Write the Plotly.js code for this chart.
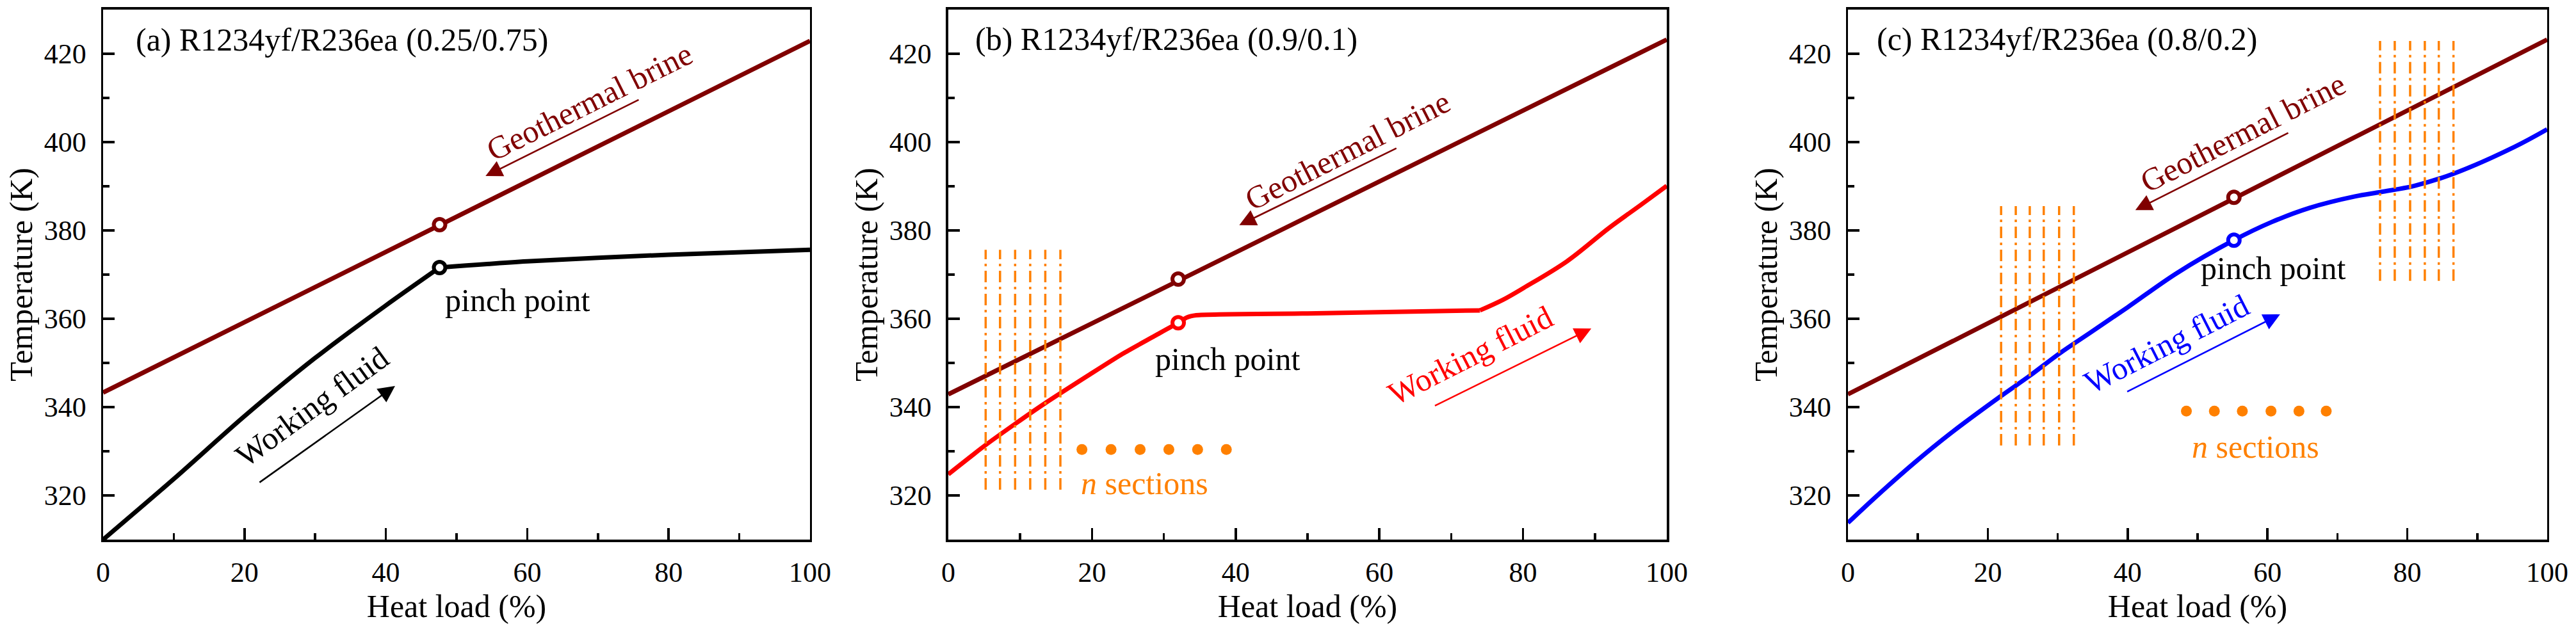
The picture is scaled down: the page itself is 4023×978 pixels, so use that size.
<!DOCTYPE html>
<html>
<head>
<meta charset="utf-8">
<script src="https://cdn.plot.ly/plotly-3.0.1.min.js"></script>
<style>
  html, body { margin: 0; padding: 0; background: #ffffff; }
  #chart { width: 4023px; height: 978px; }
</style>
</head>
<body>
<div id="chart"></div>
<script>
// heat load axis (%), temperatures (K)
const brineX = [0, 100];
const brineA = [343.3, 422.9];
const brineB = [342.9, 423.2];
const brineC = [342.9, 423.2];

// working fluid curves, each split in two pieces where the curve has a corner
const fluidAX1 = [0, 10.2, 19.9, 29.9, 39.9, 47.6];
const fluidAY1 = [310, 324.0, 337.8, 351.0, 362.9, 371.6];
const fluidAX2 = [47.6, 60, 80, 100];
const fluidAY2 = [371.6, 373.0, 374.5, 375.6];

const fluidBX1 = [0, 5.1, 9.3, 13.4, 19.8, 24.3, 28.7, 32.0, 33.2, 34.5, 50, 74.0];
const fluidBY1 = [324.8, 331.3, 336.2, 340.8, 347.5, 352.1, 356.1, 359.1, 360.3, 360.8, 361.2, 361.9];
const fluidBX2 = [74.0, 77.2, 80.1, 86.1, 92.0, 96.5, 100];
const fluidBY2 = [361.9, 364.3, 367.0, 373.0, 380.6, 385.9, 390.1];

const fluidCX = [0, 4.0, 9.5, 14.7, 21.7, 26.0, 30.3, 34.6, 40.0, 47.0, 55.2, 60.6, 66.0, 72.5, 76.2, 81.0, 86.7, 95.3, 100];
const fluidCY = [313.8, 319.7, 327.4, 334.1, 342.3, 347.1, 352.2, 356.8, 362.6, 370.3, 377.8, 381.9, 385.1, 387.7, 388.7, 390.1, 392.9, 398.9, 402.9];

// pinch points: [heat load, brine T, fluid T]
const pinchA = [47.6, 381.3, 371.6];
const pinchB = [32.0, 369.0, 359.1];
const pinchC = [55.2, 387.5, 377.8];

// section boundaries (vertical dash-dot lines) and their T extent
const sectionsB = [5.2, 7.2, 9.3, 11.4, 13.5, 15.6];
const sectionsBRange = [321.3, 375.6];
const sectionsC1 = [21.9, 24.0, 26.0, 28.0, 30.2, 32.3];
const sectionsC1Range = [331.3, 385.5];
const sectionsC2 = [76.1, 78.2, 80.4, 82.5, 84.5, 86.6];
const sectionsC2Range = [368.6, 422.9];

const dotsBX = [18.6, 22.65, 26.7, 30.7, 34.7, 38.7];
const dotsBY = 330.4;
const dotsCX = [48.4, 52.4, 56.4, 60.5, 64.5, 68.4];
const dotsCY = 339.1;

const panelTitles = [
  "(a) R1234yf/R236ea (0.25/0.75)",
  "(b) R1234yf/R236ea (0.9/0.1)",
  "(c) R1234yf/R236ea (0.8/0.2)"
];

const xTickVals = [0, 20, 40, 60, 80, 100];
const yTickVals = [320, 340, 360, 380, 400, 420];

const BRINE = "#800000";
const ORANGE = "#ff8000";
const FONT = "Liberation Serif, Times New Roman, serif";
const LW = 7;

const sectionX = (xs) => xs.flatMap((v) => [v, v, null]);
const sectionY = (xs, range) => xs.flatMap(() => [range[0], range[1], null]);

const lineTrace = (x, y, color, xa, ya, smooth = 0) => ({
  x, y, xaxis: xa, yaxis: ya, type: "scatter", mode: "lines",
  line: smooth > 0 ? { color, width: LW, shape: "spline", smoothing: smooth } : { color, width: LW },
  hoverinfo: "skip", showlegend: false
});

const pinchTrace = (p, fluidColor, xa, ya) => ({
  x: [p[0], p[0]], y: [p[1], p[2]], xaxis: xa, yaxis: ya,
  type: "scatter", mode: "markers", showlegend: false, hoverinfo: "skip",
  marker: { symbol: "circle", size: 18, color: "#ffffff", line: { color: [BRINE, fluidColor], width: 6 } }
});

const sectionTrace = (xs, range, xa, ya) => ({
  x: sectionX(xs), y: sectionY(xs, range), xaxis: xa, yaxis: ya,
  type: "scatter", mode: "lines", showlegend: false, hoverinfo: "skip",
  line: { color: ORANGE, width: 3.5, dash: "18px,7px,4px,7px" }
});

const dotTrace = (xs, yv, xa, ya) => ({
  x: xs, y: xs.map(() => yv), xaxis: xa, yaxis: ya,
  type: "scatter", mode: "markers", showlegend: false, hoverinfo: "skip",
  marker: { color: ORANGE, size: 17 }
});

const data = [
  lineTrace(brineX, brineA, BRINE, "x", "y"),
  lineTrace(fluidAX1, fluidAY1, "#000000", "x", "y", 0.8),
  lineTrace(fluidAX2, fluidAY2, "#000000", "x", "y", 0.8),
  pinchTrace(pinchA, "#000000", "x", "y"),

  lineTrace(brineX, brineB, BRINE, "x2", "y2"),
  lineTrace(fluidBX1, fluidBY1, "#ff0000", "x2", "y2", 0.6),
  lineTrace(fluidBX2, fluidBY2, "#ff0000", "x2", "y2", 1.0),
  sectionTrace(sectionsB, sectionsBRange, "x2", "y2"),
  pinchTrace(pinchB, "#ff0000", "x2", "y2"),
  dotTrace(dotsBX, dotsBY, "x2", "y2"),

  lineTrace(brineX, brineC, BRINE, "x3", "y3"),
  lineTrace(fluidCX, fluidCY, "#0000ff", "x3", "y3", 1.0),
  sectionTrace(sectionsC1, sectionsC1Range, "x3", "y3"),
  sectionTrace(sectionsC2, sectionsC2Range, "x3", "y3"),
  pinchTrace(pinchC, "#0000ff", "x3", "y3"),
  dotTrace(dotsCX, dotsCY, "x3", "y3")
];

const xAxis = (domain, anchor) => ({
  domain, anchor, range: [0, 100],
  tickvals: xTickVals, ticks: "inside", ticklen: 18, tickwidth: 3.5, tickcolor: "#000",
  minor: { ticks: "inside", ticklen: 10, tickwidth: 3.5, tickcolor: "#000", dtick: 10, tick0: 0 },
  showline: true, linewidth: 3.5, linecolor: "#000", mirror: true,
  showgrid: false, zeroline: false, ticklabelstandoff: 10,
  tickfont: { family: FONT, size: 44, color: "#000" },
  title: { text: "Heat load (%)", standoff: 6, font: { family: FONT, size: 50, color: "#000" } }
});

const yAxis = (anchor) => ({
  domain: [0.1380, 0.9847], anchor, range: [310, 430],
  tickvals: yTickVals, ticks: "inside", ticklen: 18, tickwidth: 3.5, tickcolor: "#000",
  minor: { ticks: "inside", ticklen: 10, tickwidth: 3.5, tickcolor: "#000", dtick: 10, tick0: 310 },
  showline: true, linewidth: 3.5, linecolor: "#000", mirror: true,
  showgrid: false, zeroline: false, ticklabelstandoff: 14,
  tickfont: { family: FONT, size: 44, color: "#000" },
  title: { text: "Temperature (K)", standoff: 3, font: { family: FONT, size: 50, color: "#000" } }
});

const txt = (xref, yref, x, y, text, color, opts = {}) => Object.assign({
  xref, yref, x, y, text, showarrow: false,
  font: { family: FONT, size: 50, color }, xanchor: "center", yanchor: "middle"
}, opts);

const arrow = (xref, yref, tail, head, color) => ({
  xref, yref, axref: xref, ayref: yref,
  x: head[0], y: head[1], ax: tail[0], ay: tail[1], text: "",
  showarrow: true, arrowhead: 2, arrowsize: 2, arrowwidth: 2.6, arrowcolor: color
});

const annotations = [
  // (a)
  txt("x", "y", 4.45, 423.2, panelTitles[0], "#000", { xanchor: "left" }),
  txt("x", "y", 68.8, 409.1, "Geothermal brine", BRINE, { textangle: -26.5 }),
  arrow("x", "y", [75.9, 409.7], [54.1, 392.3], BRINE),
  txt("x", "y", 29.6, 340.1, "Working fluid", "#000", { textangle: -36 }),
  arrow("x", "y", [22.0, 322.8], [41.3, 344.8], "#000"),
  txt("x", "y", 48.2, 364.2, "pinch point", "#000", { xanchor: "left" }),
  // (b)
  txt("x2", "y2", 3.6, 423.3, panelTitles[1], "#000", { xanchor: "left" }),
  txt("x2", "y2", 55.6, 398.1, "Geothermal brine", BRINE, { textangle: -27 }),
  arrow("x2", "y2", [62.5, 398.7], [40.5, 381.2], BRINE),
  txt("x2", "y2", 72.7, 351.7, "Working fluid", "#ff0000", { textangle: -27 }),
  arrow("x2", "y2", [67.6, 340.2], [89.5, 357.8], "#ff0000"),
  txt("x2", "y2", 28.6, 350.8, "pinch point", "#000", { xanchor: "left" }),
  txt("x2", "y2", 18.3, 322.8, "<i>n</i> sections", ORANGE, { xanchor: "left" }),
  // (c)
  txt("x3", "y3", 3.9, 423.3, panelTitles[2], "#000", { xanchor: "left" }),
  txt("x3", "y3", 56.5, 402.2, "Geothermal brine", BRINE, { textangle: -27 }),
  arrow("x3", "y3", [63.1, 402.2], [41.1, 384.6], BRINE),
  txt("x3", "y3", 45.6, 354.4, "Working fluid", "#0000ff", { textangle: -27 }),
  arrow("x3", "y3", [39.8, 343.4], [61.8, 361.0], "#0000ff"),
  txt("x3", "y3", 50.3, 371.5, "pinch point", "#000", { xanchor: "left" }),
  txt("x3", "y3", 49.0, 331.0, "<i>n</i> sections", ORANGE, { xanchor: "left" })
];

const layout = {
  width: 4023,
  height: 978,
  margin: { l: 0, r: 0, t: 0, b: 0 },
  paper_bgcolor: "#ffffff",
  plot_bgcolor: "#ffffff",
  showlegend: false,
  font: { family: FONT, color: "#000" },
  xaxis: xAxis([0.04002, 0.31444], "y"),
  yaxis: yAxis("x"),
  xaxis2: xAxis([0.36813, 0.64703], "y2"),
  yaxis2: yAxis("x2"),
  xaxis3: xAxis([0.71738, 0.98881], "y3"),
  yaxis3: yAxis("x3"),
  annotations
};

Plotly.newPlot("chart", data, layout, { displayModeBar: false, staticPlot: true });
</script>
</body>
</html>
